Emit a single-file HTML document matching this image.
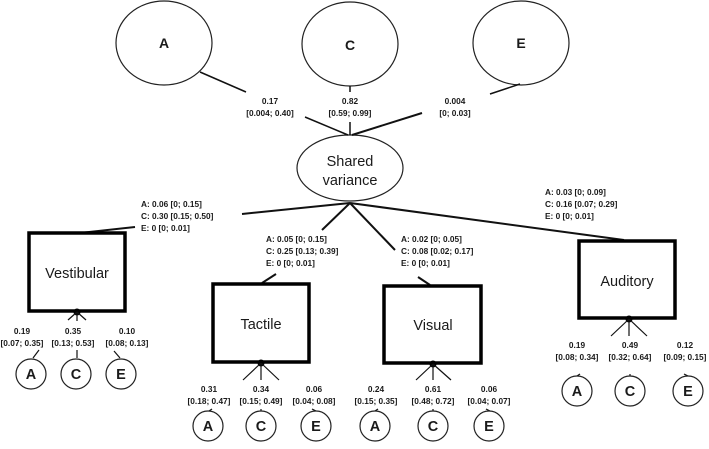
<!DOCTYPE html>
<html><head><style>
body{margin:0;background:#fff}
svg text{font-family:"Liberation Sans",sans-serif;fill:#1a1a1a}
.s{font-size:8.3px;font-weight:bold;fill:#333 !important}
.m{font-size:14.5px}
.b{font-size:14px}
</style></head><body>
<svg width="709" height="444" viewBox="0 0 709 444" xmlns="http://www.w3.org/2000/svg">
<g fill="none" stroke="#222" stroke-width="1.2">
<ellipse cx="164" cy="43" rx="48" ry="42"/>
<ellipse cx="350" cy="44" rx="48" ry="42"/>
<ellipse cx="521" cy="43" rx="48" ry="42"/>
<ellipse cx="350" cy="168" rx="53" ry="33"/>
</g>
<g stroke="#111" stroke-width="1.5" fill="none">
<line x1="200" y1="72" x2="246" y2="92"/>
<line x1="350" y1="86" x2="350" y2="92"/>
<line x1="520" y1="84" x2="490" y2="94"/>
<line x1="305" y1="117" x2="348" y2="135"/>
<line x1="350" y1="122" x2="350" y2="135"/>
<line x1="422" y1="113" x2="352" y2="135" stroke-width="2"/>
<line x1="350" y1="203" x2="242" y2="214" stroke-width="2"/>
<line x1="135" y1="227" x2="80" y2="233" stroke-width="2"/>
<line x1="350" y1="203" x2="322" y2="230" stroke-width="2"/>
<line x1="276" y1="274" x2="262" y2="283" stroke-width="2"/>
<line x1="350" y1="203" x2="395" y2="250" stroke-width="2"/>
<line x1="418" y1="277" x2="430" y2="285" stroke-width="2"/>
<line x1="350" y1="203" x2="624" y2="240" stroke-width="2"/>
</g>
<g fill="none" stroke="#000" stroke-width="3.5">
<rect x="29" y="233" width="96" height="78"/>
<rect x="213" y="284" width="96" height="78"/>
<rect x="384" y="286" width="97" height="77"/>
<rect x="579" y="241" width="96" height="77"/>
</g>
<g fill="#000"><circle cx="77" cy="312" r="3.5"/><circle cx="261" cy="363" r="3.5"/><circle cx="433" cy="364" r="3.5"/><circle cx="629" cy="319" r="3.5"/></g>
<g stroke="#111" stroke-width="1.2">
<line x1="77" y1="312" x2="68" y2="320"/><line x1="77" y1="312" x2="77" y2="321"/><line x1="77" y1="312" x2="86" y2="320"/>
<line x1="261" y1="363" x2="243" y2="380"/><line x1="261" y1="363" x2="261" y2="380"/><line x1="261" y1="363" x2="279" y2="380"/>
<line x1="433" y1="364" x2="416" y2="380"/><line x1="433" y1="364" x2="433" y2="380"/><line x1="433" y1="364" x2="451" y2="380"/>
<line x1="629" y1="319" x2="611" y2="336"/><line x1="629" y1="319" x2="629" y2="336"/><line x1="629" y1="319" x2="647" y2="336"/>
<line x1="39" y1="350" x2="33" y2="358"/><line x1="77" y1="350" x2="77" y2="358"/><line x1="114" y1="351" x2="120" y2="358"/>
<line x1="212" y1="409" x2="209" y2="411"/><line x1="261" y1="409" x2="261" y2="411"/><line x1="312" y1="409" x2="316" y2="411"/>
<line x1="378" y1="409" x2="375" y2="411"/><line x1="433" y1="409" x2="433" y2="411"/><line x1="486" y1="409" x2="490" y2="411"/>
<line x1="580" y1="374" x2="577" y2="376"/><line x1="630" y1="374" x2="630" y2="376"/><line x1="684" y1="374" x2="688" y2="376"/>
</g>
<g fill="#fff" stroke="#222" stroke-width="1.2">
<circle cx="31" cy="374" r="15"/><circle cx="76" cy="374" r="15"/><circle cx="121" cy="374" r="15"/>
<circle cx="208" cy="426" r="15"/><circle cx="261" cy="426" r="15"/><circle cx="316" cy="426" r="15"/>
<circle cx="375" cy="426" r="15"/><circle cx="433" cy="426" r="15"/><circle cx="489" cy="426" r="15"/>
<circle cx="577" cy="391" r="15"/><circle cx="630" cy="391" r="15"/><circle cx="688" cy="391" r="15"/>
</g>
<g class="b" text-anchor="middle" font-weight="bold">
<text x="164" y="48">A</text><text x="350" y="50">C</text><text x="521" y="48">E</text>
</g>
<g class="m" text-anchor="middle">
<text x="350" y="166">Shared</text><text x="350" y="185">variance</text>
<text x="77" y="278">Vestibular</text><text x="261" y="329">Tactile</text>
<text x="433" y="330">Visual</text><text x="627" y="286">Auditory</text>
</g>
<g class="m" text-anchor="middle" font-weight="bold">
<text x="31" y="379">A</text><text x="76" y="379">C</text><text x="121" y="379">E</text>
<text x="208" y="431">A</text><text x="261" y="431">C</text><text x="316" y="431">E</text>
<text x="375" y="431">A</text><text x="433" y="431">C</text><text x="489" y="431">E</text>
<text x="577" y="396">A</text><text x="630" y="396">C</text><text x="688" y="396">E</text>
</g>
<g class="s" text-anchor="middle">
<text x="270" y="104">0.17</text><text x="270" y="116">[0.004; 0.40]</text>
<text x="350" y="104">0.82</text><text x="350" y="116">[0.59; 0.99]</text>
<text x="455" y="104">0.004</text><text x="455" y="116">[0; 0.03]</text>
<text x="22" y="334">0.19</text><text x="22" y="346">[0.07; 0.35]</text>
<text x="73" y="334">0.35</text><text x="73" y="346">[0.13; 0.53]</text>
<text x="127" y="334">0.10</text><text x="127" y="346">[0.08; 0.13]</text>
<text x="209" y="392">0.31</text><text x="209" y="404">[0.18; 0.47]</text>
<text x="261" y="392">0.34</text><text x="261" y="404">[0.15; 0.49]</text>
<text x="314" y="392">0.06</text><text x="314" y="404">[0.04; 0.08]</text>
<text x="376" y="392">0.24</text><text x="376" y="404">[0.15; 0.35]</text>
<text x="433" y="392">0.61</text><text x="433" y="404">[0.48; 0.72]</text>
<text x="489" y="392">0.06</text><text x="489" y="404">[0.04; 0.07]</text>
<text x="577" y="348">0.19</text><text x="577" y="360">[0.08; 0.34]</text>
<text x="630" y="348">0.49</text><text x="630" y="360">[0.32; 0.64]</text>
<text x="685" y="348">0.12</text><text x="685" y="360">[0.09; 0.15]</text>
</g>
<g class="s">
<text x="141" y="207">A: 0.06 [0; 0.15]</text><text x="141" y="219">C: 0.30 [0.15; 0.50]</text><text x="141" y="231">E: 0 [0; 0.01]</text>
<text x="266" y="242">A: 0.05 [0; 0.15]</text><text x="266" y="254">C: 0.25 [0.13; 0.39]</text><text x="266" y="266">E: 0 [0; 0.01]</text>
<text x="401" y="242">A: 0.02 [0; 0.05]</text><text x="401" y="254">C: 0.08 [0.02; 0.17]</text><text x="401" y="266">E: 0 [0; 0.01]</text>
<text x="545" y="195">A: 0.03 [0; 0.09]</text><text x="545" y="207">C: 0.16 [0.07; 0.29]</text><text x="545" y="219">E: 0 [0; 0.01]</text>
</g>
</svg>
</body></html>
